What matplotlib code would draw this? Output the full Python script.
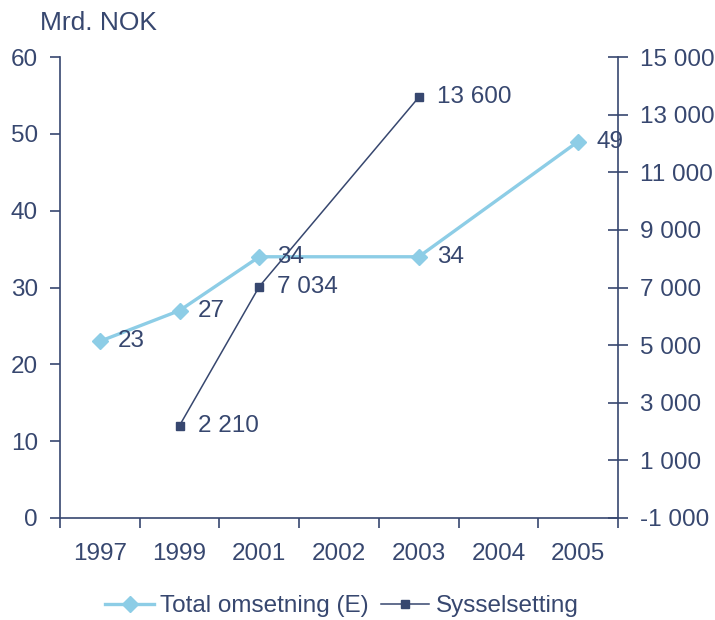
import matplotlib
matplotlib.use("Agg")
import matplotlib.pyplot as plt
from matplotlib.lines import Line2D
from matplotlib.ticker import FuncFormatter

plt.rcParams['font.family'] = ['Liberation Sans', 'DejaVu Sans']

years = ["1997", "1999", "2001", "2002", "2003", "2004", "2005"]
omsetning_years = ["1997", "1999", "2001", "2003", "2005"]
omsetning = [23, 27, 34, 34, 49]
syssel_years = ["1999", "2001", "2003"]
syssel = [2210, 7034, 13600]

NAVY = "#37476F"
LIGHT = "#8DCDE6"
FS = 17.5

def sp(v):
    s = f"{abs(int(v)):,}".replace(",", " ")
    return ("-" if v < 0 else "") + s

fig = plt.figure(figsize=(7.15, 6.2), dpi=100)
ax = fig.add_axes([60/715, 102/620, 558/715, 461/620])
ax2 = ax.twinx()

xo = [years.index(y) for y in omsetning_years]
xs = [years.index(y) for y in syssel_years]

ax.plot(xo, omsetning, color=LIGHT, lw=2.4, marker="D", ms=8.5,
        mec=LIGHT, mfc=LIGHT, zorder=3)
for x, v in zip(xo, omsetning):
    ax.annotate(str(v), (x, v), xytext=(13, 0), textcoords="offset points",
                va="center", ha="left", fontsize=FS, color=NAVY, zorder=5)

ax2.plot(xs, syssel, color=NAVY, lw=1.1, marker="s", ms=6,
         mec=NAVY, mfc=NAVY, zorder=3)
for x, v in zip(xs, syssel):
    ax2.annotate(sp(v), (x, v), xytext=(13, 0), textcoords="offset points",
                 va="center", ha="left", fontsize=FS, color=NAVY, zorder=5)

ax.set_xlim(-0.5, len(years) - 0.5)
ax.set_ylim(0, 60)
ax2.set_ylim(-1000, 15000)

ax.set_yticks(range(0, 61, 10))
ax2.set_yticks(range(-1000, 15001, 2000))
ax2.yaxis.set_major_formatter(FuncFormatter(lambda v, p: sp(v)))

# category boundaries as major ticks, labels on minor ticks at centres
ax.set_xticks([i - 0.5 for i in range(len(years) + 1)])
ax.set_xticklabels([])
ax.set_xticks(range(len(years)), minor=True)
ax.set_xticklabels(years, minor=True)
ax.tick_params(axis="x", which="major", direction="out", length=7, width=1.2, color=NAVY)
ax.tick_params(axis="x", which="minor", length=0, pad=18, labelsize=FS, labelcolor=NAVY)
ax.tick_params(axis="y", direction="out", length=7, width=1.2, color=NAVY,
               pad=9, labelsize=FS, labelcolor=NAVY)
ax2.tick_params(axis="y", direction="inout", length=15, width=1.2, color=NAVY,
                pad=8, labelsize=FS, labelcolor=NAVY)

for a in (ax, ax2):
    for s in a.spines.values():
        s.set_visible(False)
ax.spines["left"].set_visible(True)
ax.spines["bottom"].set_visible(True)
ax2.spines["right"].set_visible(True)
for s in (ax.spines["left"], ax.spines["bottom"], ax2.spines["right"]):
    s.set_color(NAVY)
    s.set_linewidth(1.2)

fig.text(40/715, 1 - 23/620, "Mrd. NOK", fontsize=19, color=NAVY, va="center", ha="left")

handles = [
    Line2D([], [], color=LIGHT, lw=2.4, marker="D", ms=8.5, mec=LIGHT, mfc=LIGHT),
    Line2D([], [], color=NAVY, lw=1.1, marker="s", ms=6, mec=NAVY, mfc=NAVY),
]
leg = fig.legend(handles, ["Total omsetning (E)", "Sysselsetting"], loc="center",
                 bbox_to_anchor=(0.478, 14/620), ncol=2, frameon=False,
                 fontsize=FS, handlelength=2.0, handletextpad=0.25,
                 columnspacing=0.5, borderaxespad=0)
for t in leg.get_texts():
    t.set_color(NAVY)

fig.savefig("out.png", dpi=100)
